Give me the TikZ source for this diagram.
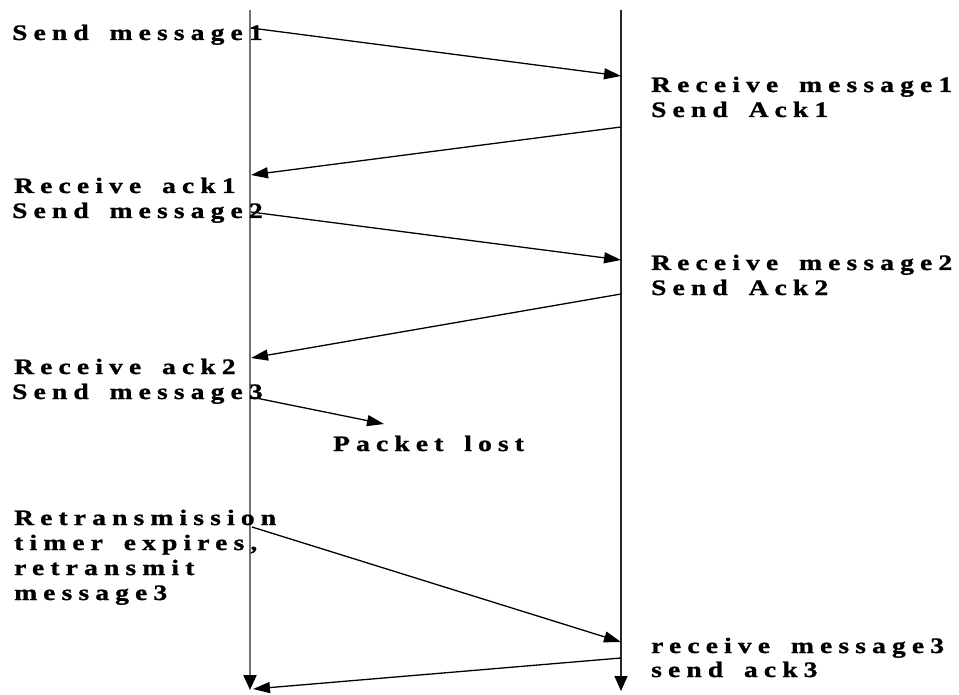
\documentclass[tikz,border=0pt]{standalone}
\usepackage{fontspec}
\setmainfont{Liberation Serif}[FakeStretch=1.25,LetterSpace=28,WordSpace=1.6,BoldFeatures={FakeBold=1.2}]
\usetikzlibrary{arrows.meta}
\begin{document}
\begin{tikzpicture}[x=1pt,y=-1pt,
  lbl/.style={anchor=base west,inner sep=0pt,font=\fontsize{22}{25}\selectfont\bfseries,text=black},
  msg/.style={line width=1.3pt,-{Triangle[length=17pt,width=11pt]}},
  lifeL/.style={line width=2.2pt,draw=black!55,-{Triangle[length=15pt,width=13pt,color=black]}},
  lifeR/.style={line width=1.5pt,draw=black!85,-{Triangle[length=15pt,width=13pt,color=black]}}]
\useasboundingbox (0,0) rectangle (959,695);
% lifelines
\coordinate (Ltop) at (250,10);
\coordinate (Lbot) at (250,690);
\coordinate (Rtop) at (621,10);
\coordinate (Rbot) at (621,691);
\draw[lifeL] (Ltop) -- (Lbot);
\draw[lifeR] (Rtop) -- (Rbot);
% message endpoints
\coordinate (a1) at (251,28);  \coordinate (b1) at (621,76);
\coordinate (b2) at (621,127); \coordinate (a2) at (251,175);
\coordinate (a3) at (251,212); \coordinate (b3) at (621,260);
\coordinate (b4) at (621,294); \coordinate (a4) at (251,358);
\coordinate (a5) at (251,397); \coordinate (p5) at (384,424);
\coordinate (a6) at (252,527); \coordinate (b6) at (621,642);
\coordinate (b7) at (621,658); \coordinate (a7) at (253,689);
\draw[msg] (a1) -- (b1);
\draw[msg] (b2) -- (a2);
\draw[msg] (a3) -- (b3);
\draw[msg] (b4) -- (a4);
\draw[msg] (a5) -- (p5);
\draw[msg] (a6) -- (b6);
\draw[msg] (b7) -- (a7);
% labels
\node[lbl] (t1) at (12,40) {Send message1};
\node[lbl] (t2) at (651,92) {Receive message1};
\node[lbl] (t3) at (651,117) {Send Ack1};
\node[lbl] (t4) at (14,193) {Receive ack1};
\node[lbl] (t5) at (12,218) {Send message2};
\node[lbl] (t6) at (651,270) {Receive message2};
\node[lbl] (t7) at (651,295) {Send Ack2};
\node[lbl] (t8) at (14,374) {Receive ack2};
\node[lbl] (t9) at (12,399) {Send message3};
\node[lbl] (t10) at (333,451) {Packet lost};
\node[lbl] (t11) at (14,525) {Retransmission};
\node[lbl] (t12) at (14,550) {timer expires,};
\node[lbl] (t13) at (14,575) {retransmit};
\node[lbl] (t14) at (14,600) {message3};
\node[lbl] (t15) at (651,653) {receive message3};
\node[lbl] (t16) at (651,677) {send ack3};
\end{tikzpicture}
\end{document}
